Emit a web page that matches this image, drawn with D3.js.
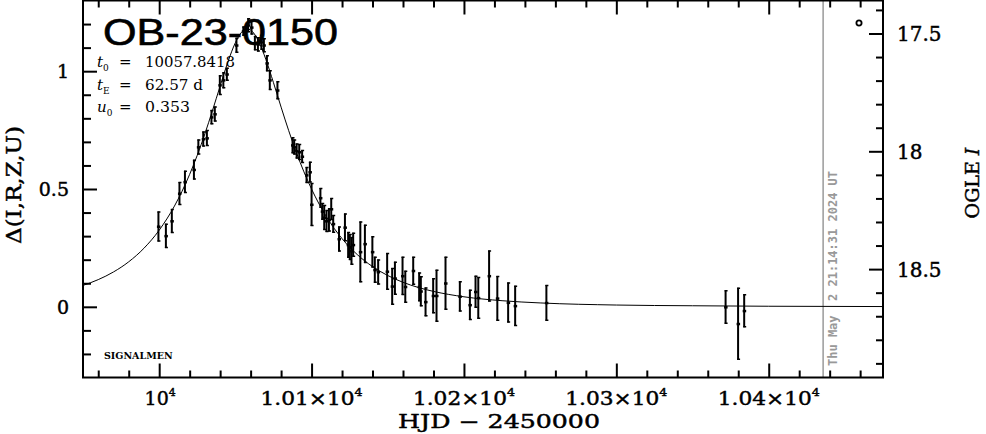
<!DOCTYPE html>
<html><head><meta charset="utf-8">
<script src="https://cdn.jsdelivr.net/npm/d3@7/dist/d3.min.js"></script>
<style>
html,body{margin:0;padding:0;background:#fff;}
svg{display:block;}
text{font-family:"DejaVu Serif",serif;fill:#000;}
.bold{stroke:#000;stroke-width:0.45px;}
</style></head><body>
<svg id="c" width="986" height="434"></svg>
<script>
// ---- data ----
const hjd = [9999.5,10004.4,10008.3,10013.3,10016.9,10022.8,10025.7,10028.9,10031.3,10034.3,
  10036.5,10039.8,10042.1,10044.4,10050.7,10055.2,10058.4,10060.6,10062.8,10064.8,
  10067.1,10068.7,10070.7,10072.6,10077.6,10087.5,10088.6,10090.2,10091.9,10093.8,
  10096.7,10098.9,10100.0,10105.8,10107.0,10108.3,10109.8,10111.4,10112.9,10114.2,
  10118.0,10121.9,10124.0,10125.1,10126.2,10127.3,10132.0,10135.0,10139.9,10141.5,
  10143.7,10149.6,10152.9,10154.7,10159.7,10161.5,10166.7,10170.6,10171.7,10174.8,
  10179.8,10182.0,10187.9,10197.3,10203.9,10207.6,10209.4,10216.5,10221.9,10229.0,
  10233.6,10254.1,10371.7,10379.9,10383.9];
const delta = [0.341,0.301,0.364,0.481,0.530,0.582,0.678,0.712,0.716,0.805,
  0.818,0.941,0.962,0.987,1.110,1.170,1.195,1.186,1.119,1.114,
  1.123,1.110,1.034,0.962,0.919,0.686,0.678,0.661,0.657,0.638,
  0.559,0.572,0.434,0.462,0.405,0.379,0.364,0.369,0.415,0.352,
  0.288,0.337,0.263,0.254,0.237,0.263,0.233,0.267,0.233,0.157,
  0.148,0.150,0.087,0.121,0.131,0.085,0.153,0.085,0.066,0.021,
  0.047,0.047,0.100,0.044,0.008,0.064,0.038,0.131,0.036,0.018,
  0.004,0.017,-0.001,-0.072,-0.017];
const err = [0.064,0.051,0.051,0.049,0.047,0.042,0.032,0.032,0.034,0.030,
  0.032,0.042,0.034,0.028,0.032,0.020,0.030,0.030,0.030,0.030,
  0.032,0.030,0.034,0.042,0.038,0.034,0.032,0.032,0.034,0.028,
  0.034,0.044,0.091,0.042,0.036,0.053,0.047,0.049,0.047,0.038,
  0.053,0.059,0.055,0.055,0.059,0.051,0.129,0.081,0.066,0.055,
  0.053,0.078,0.078,0.070,0.081,0.068,0.059,0.061,0.064,0.061,
  0.074,0.110,0.112,0.064,0.064,0.068,0.089,0.108,0.095,0.085,
  0.085,0.076,0.071,0.153,0.070];
// model curve samples
const modelHjd = [9950,9960,9970,9980,9990,10000,10010,10020,10025,10030,10035,10040,10045,10050,10055,10057.84,10060,10065,10070,10075,10080,10085,10090,10095,10100,10110,10120,10130,10140,10150,10160,10170,10180,10200,10225,10250,10300,10350,10400,10475];
const modelDelta = [0.0908,0.1154,0.1479,0.1910,0.2485,0.3252,0.4275,0.5622,0.6435,0.7344,0.8335,0.9370,1.0373,1.1210,1.1714,1.1795,1.1748,1.1303,1.0501,0.9512,0.8475,0.7475,0.6554,0.5727,0.4996,0.3797,0.2894,0.2216,0.1709,0.1328,0.1040,0.0821,0.0654,0.0425,0.0259,0.0165,0.0075,0.0045,0.0024,0.0011];
// ticks and labels
const xMajorTicks = [10000,10100,10200,10300,10400];
const xTickMantissa = ["", "1.01", "1.02", "1.03", "1.04"];
const yMajorTicks = [0, 0.5, 1];
const yTickLabels = ["0", "0.5", "1"];
const magMajorTicks = [17.5, 18, 18.5];
const magTickLabels = ["17.5", "18", "18.5"];
const baselineMag = 18.66;
const eventName = "OB-23-0150";
const paramT0 = "10057.8418";
const paramTE = "62.57 d";
const paramU0 = "0.353";
const stampHjd = 10435.7;
const stampText = "Thu May  2 21:14:31 2024 UT";

// ---- drawing ----
const svg = d3.select("#c");
const L = 83, R = 883, T = 0.5, B = 377.5;
const x = d3.scaleLinear().domain([9950, 10475]).range([L, R]);
const y = d3.scaleLinear().domain([-0.3, 1.3]).range([B, T]);
const mag = d3.scaleLinear().domain([baselineMag + 0.3, baselineMag - 1.3]).range([B, T]);

const xMinor = d3.range(9960, 10475, 20).filter(v => !xMajorTicks.includes(v));
const yMinor = d3.range(-2, 13).map(v => v / 10).filter(v => !yMajorTicks.includes(v));
const magMinor = d3.range(174, 190).map(v => v / 10).filter(v => !magMajorTicks.includes(v));

function tickAxis(axisGen, scale, vals, size, tx, ty) {
  const g = svg.append("g").attr("transform", `translate(${tx},${ty})`)
    .call(axisGen(scale).tickValues(vals).tickSizeInner(-size).tickSizeOuter(0).tickFormat(""));
  g.select(".domain").remove();
  g.selectAll(".tick line").attr("stroke", "#000").attr("stroke-width", 2);
  return g;
}
tickAxis(d3.axisBottom, x, xMinor, 7, 0, B);
tickAxis(d3.axisBottom, x, xMajorTicks, 14, 0, B);
tickAxis(d3.axisTop, x, xMinor, 7, 0, T);
tickAxis(d3.axisTop, x, xMajorTicks, 14, 0, T);
tickAxis(d3.axisLeft, y, yMinor, 8, L, 0);
tickAxis(d3.axisLeft, y, yMajorTicks, 14, L, 0);
tickAxis(d3.axisRight, mag, magMinor, 7, R, 0);
tickAxis(d3.axisRight, mag, magMajorTicks, 14, R, 0);

// clip
svg.append("clipPath").attr("id", "clip").append("rect")
  .attr("x", L).attr("y", T).attr("width", R - L).attr("height", B - T);

// stamp line
svg.append("line").attr("x1", x(stampHjd)).attr("x2", x(stampHjd))
  .attr("y1", T).attr("y2", B).attr("stroke", "#9a9a9a").attr("stroke-width", 1.5);
svg.append("text")
  .attr("transform", `translate(${x(stampHjd) + 13.5},366) rotate(-90)`)
  .style("font-family", "'DejaVu Sans Mono', monospace").style("font-weight", "bold")
  .style("font-size", "12px").style("fill", "#999").style("white-space", "pre")
  .text(stampText);

// model curve
const model = modelHjd.map((t, i) => [t, modelDelta[i]]);
svg.append("path").attr("clip-path", "url(#clip)")
  .datum(model)
  .attr("d", d3.line().x(d => x(d[0])).y(d => y(d[1])).curve(d3.curveMonotoneX))
  .attr("fill", "none").attr("stroke", "#000").attr("stroke-width", 1);

// data
const pts = hjd.map((t, i) => ({t, d: delta[i], e: err[i]}));
const gp = svg.append("g").attr("clip-path", "url(#clip)");
pts.forEach(p => {
  const px = x(p.t), y1 = y(p.d + p.e), y2 = y(p.d - p.e), yc = y(p.d);
  gp.append("line").attr("x1", px).attr("x2", px).attr("y1", y1).attr("y2", y2)
    .attr("stroke", "#000").attr("stroke-width", 2);
  gp.append("line").attr("x1", px - 1).attr("x2", px + 2).attr("y1", y1 + 0.5).attr("y2", y1 + 0.5)
    .attr("stroke", "#000").attr("stroke-width", 1.5);
  gp.append("line").attr("x1", px - 1).attr("x2", px + 2).attr("y1", y2 - 0.5).attr("y2", y2 - 0.5)
    .attr("stroke", "#000").attr("stroke-width", 1.5);
  gp.append("rect").attr("x", px - 1.5).attr("y", yc - 1).attr("width", 3.5).attr("height", 2.5).attr("fill", "#000");
});

// frame
svg.append("rect").attr("x", L).attr("y", T).attr("width", R - L).attr("height", B - T)
  .attr("fill", "none").attr("stroke", "#000").attr("stroke-width", 2);

// x tick labels
xMajorTicks.forEach((v, i) => {
  const m = xTickMantissa[i];
  const t = svg.append("text").attr("class", "bold").attr("x", x(v) + (m ? 0 : 1)).attr("y", 405).attr("text-anchor", "middle")
    .style("font-size", "19px");
  if (m) t.attr("textLength", 102).attr("lengthAdjust", "spacingAndGlyphs");
  t.append("tspan").text(m ? m + "\u00d710" : "10");
  t.append("tspan").attr("dy", -9).style("font-size", "11px").text("4");
});
svg.append("text").attr("class", "bold").attr("x", 398).attr("y", 428).style("font-size", "19px")
  .attr("textLength", 202).attr("lengthAdjust", "spacingAndGlyphs")
  .text("HJD \u2212 2450000");

// y tick labels
yMajorTicks.forEach((v, i) => {
  svg.append("text").attr("class", "bold").attr("x", 69).attr("y", y(v) + 7).attr("text-anchor", "end")
    .style("font-size", "19px").text(yTickLabels[i]);
});
svg.append("text").attr("class", "bold").attr("transform", "translate(21,185) rotate(-90)").attr("text-anchor", "middle")
  .style("font-size", "20px").attr("textLength", 118).attr("lengthAdjust", "spacingAndGlyphs")
  .text("\u0394(I,R,Z,U)");

// right (magnitude) labels
magMajorTicks.forEach((v, i) => {
  svg.append("text").attr("class", "bold").attr("x", 897).attr("y", mag(v) + 8)
    .style("font-size", "20px").text(magTickLabels[i]);
});
const ol = svg.append("text").attr("class", "bold").attr("transform", "translate(979,183) rotate(-90)").attr("text-anchor", "middle")
  .style("font-size", "19px");
ol.append("tspan").text("OGLE ");
ol.append("tspan").style("font-style", "italic").text("I");

// small circle marker top right
svg.append("circle").attr("cx", 859).attr("cy", 23).attr("r", 2.6)
  .attr("fill", "#fff").attr("stroke", "#000").attr("stroke-width", 1.8);

// title
svg.append("text").attr("x", 103).attr("y", 45)
  .style("font-family", "'Liberation Sans', Arial, sans-serif").style("font-size", "37px")
  .style("stroke", "#000").style("stroke-width", "0.6")
  .attr("textLength", 235).attr("lengthAdjust", "spacingAndGlyphs")
  .text(eventName);

// parameters
function paramLine(yb, sym, sub, val, valW) {
  const t = svg.append("text").attr("x", 97).attr("y", yb).style("font-size", "15px");
  t.append("tspan").style("font-style", "italic").text(sym);
  t.append("tspan").attr("dy", 4).style("font-size", "9px").text(sub);
  svg.append("text").attr("x", 119).attr("y", yb).style("font-size", "15px").text("=");
  svg.append("text").attr("x", 145).attr("y", yb).style("font-size", "15px")
    .attr("textLength", valW).attr("lengthAdjust", "spacingAndGlyphs").text(val);
}
paramLine(66.5, "t", "0", paramT0, 90);
paramLine(90, "t", "E", paramTE, 58);
paramLine(111.5, "u", "0", paramU0, 45);

// signature
svg.append("text").attr("x", 104).attr("y", 359).style("font-size", "9.5px")
  .style("font-weight", "bold").text("SIGNALMEN");
</script>
</body></html>
